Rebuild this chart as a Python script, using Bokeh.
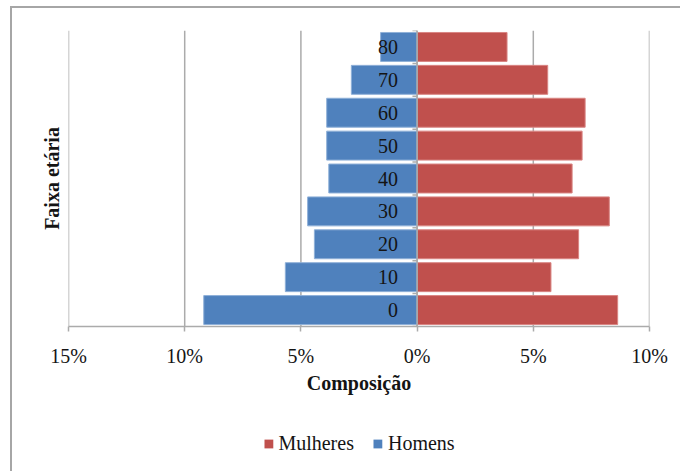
from bokeh.embed import file_html
from bokeh.resources import INLINE
from bokeh.plotting import figure
from bokeh.layouts import column
from bokeh.models import (ColumnDataSource, FixedTicker, CustomJSTickFormatter,
                          Legend, LegendItem, LinearAxis, Range1d, Span)
from bokeh.core.properties import value

# Population composition by age group (% of total)
age_groups = ["0", "10", "20", "30", "40", "50", "60", "70", "80"]
mulheres = [8.63, 5.76, 6.95, 8.27, 6.67, 7.10, 7.23, 5.62, 3.87]
homens = [9.18, 5.67, 4.42, 4.71, 3.80, 3.89, 3.89, 2.83, 1.57]
x_ticks = [-15, -10, -5, 0, 5, 10]

RED = "#C0504D"
BLUE = "#4F81BD"
GRID = "#ABABAB"
INK = "#141414"
SERIF = "Liberation Serif"
FS = "20px"

pos = list(range(len(age_groups)))
src = ColumnDataSource(dict(
    y=pos,
    label=age_groups,
    f=mulheres,
    m=[-v for v in homens],
    zero=[0] * len(pos),
))

# ---- main pyramid ----
p = figure(width=668, height=388, output_backend="svg", toolbar_location=None,
           x_range=Range1d(-15, 10), y_range=Range1d(-0.5, len(pos) - 0.5),
           min_border_left=56, min_border_right=31, min_border_top=22,
           min_border_bottom=66, y_axis_location=None)
p.outline_line_color = None
p.background_fill_color = "white"
p.border_fill_color = "white"

# vertical gridlines at every tick, including the range ends
p.xgrid.visible = False
p.ygrid.visible = False
for t in x_ticks:
    p.add_layout(Span(location=t, dimension="height", line_color=GRID,
                      line_width=1.5, level="underlay"))

xa = p.xaxis[0]
xa.ticker = FixedTicker(ticks=x_ticks)
xa.formatter = CustomJSTickFormatter(code="return Math.abs(tick) + '%';")
xa.axis_line_color = GRID
xa.axis_line_width = 1.5
xa.major_tick_line_color = GRID
xa.major_tick_line_width = 1.5
xa.major_tick_out = 5
xa.major_tick_in = 0
xa.minor_tick_line_color = None
xa.major_label_text_font = SERIF
xa.major_label_text_font_size = FS
xa.major_label_text_color = INK
xa.major_label_standoff = 13
xa.axis_label = "Composição"
xa.axis_label_text_font = SERIF
xa.axis_label_text_font_size = FS
xa.axis_label_text_font_style = "bold"
xa.axis_label_text_color = INK
xa.axis_label_standoff = 2

# left axis carries only the title
ya = LinearAxis(axis_label="Faixa etária", axis_label_text_font=SERIF,
                axis_label_text_font_size=FS, axis_label_text_font_style="bold",
                axis_label_text_color=INK, axis_label_standoff=6,
                axis_line_color=None, major_tick_line_color=None,
                minor_tick_line_color=None, major_label_text_font_size="0px",
                major_tick_out=0, major_tick_in=0, major_label_standoff=0,
                ticker=FixedTicker(ticks=[]))
p.add_layout(ya, "left")

bar_h = 0.88
p.hbar(y="y", left="zero", right="f", height=bar_h, source=src,
       fill_color=RED, line_color="#d98583", line_width=1)
p.hbar(y="y", left="m", right="zero", height=bar_h, source=src,
       fill_color=BLUE, line_color="#8fb0d8", line_width=1)

# category axis drawn along the zero line
n = len(pos)
p.segment(x0=0, x1=0, y0=-0.5, y1=n - 0.5, line_color=GRID, line_width=1.5)
p.segment(x0=[0] * (n + 1), x1=[-0.2] * (n + 1),
          y0=[k - 0.5 for k in range(n + 1)], y1=[k - 0.5 for k in range(n + 1)],
          line_color=GRID, line_width=1.5)
p.text(x="zero", y="y", text="label", source=src, x_offset=-19,
       text_align="right", text_baseline="middle",
       text_font=value(SERIF), text_font_size=FS, text_color=INK)

# ---- legend strip ----
lp = figure(width=668, height=75, output_backend="svg", toolbar_location=None,
            x_range=Range1d(0, 1), y_range=Range1d(0, 1),
            min_border_left=56, min_border_right=31, min_border_top=0,
            min_border_bottom=0, x_axis_location=None, y_axis_location=None)
lp.outline_line_color = None
lp.xgrid.visible = False
lp.ygrid.visible = False
# legend keys: one swatch row each, kept outside the strip's visible range
key_src = ColumnDataSource(dict(y=[-5], left=[-5], right=[-4]))
k_f = lp.hbar(y="y", left="left", right="right", height=0.1, source=key_src,
              fill_color=RED, line_color=None)
k_m = lp.hbar(y="y", left="left", right="right", height=0.1, source=key_src,
              fill_color=BLUE, line_color=None)
legend = Legend(items=[LegendItem(label="Mulheres", renderers=[k_f]),
                       LegendItem(label="Homens", renderers=[k_m])],
                orientation="horizontal", location="bottom_center",
                label_text_font=SERIF, label_text_font_size=FS,
                label_text_color=INK, glyph_width=11, glyph_height=11,
                label_standoff=5, spacing=18, border_line_color=None,
                background_fill_alpha=0, margin=16, padding=4)
lp.add_layout(legend)

page = column(p, lp, spacing=0,
              styles={"margin-left": "10px", "margin-top": "6px",
                      "border-left": "2px solid #A6A6A6",
                      "border-top": "2px solid #A6A6A6"})

open("out.html", "w").write(file_html(page, INLINE))
